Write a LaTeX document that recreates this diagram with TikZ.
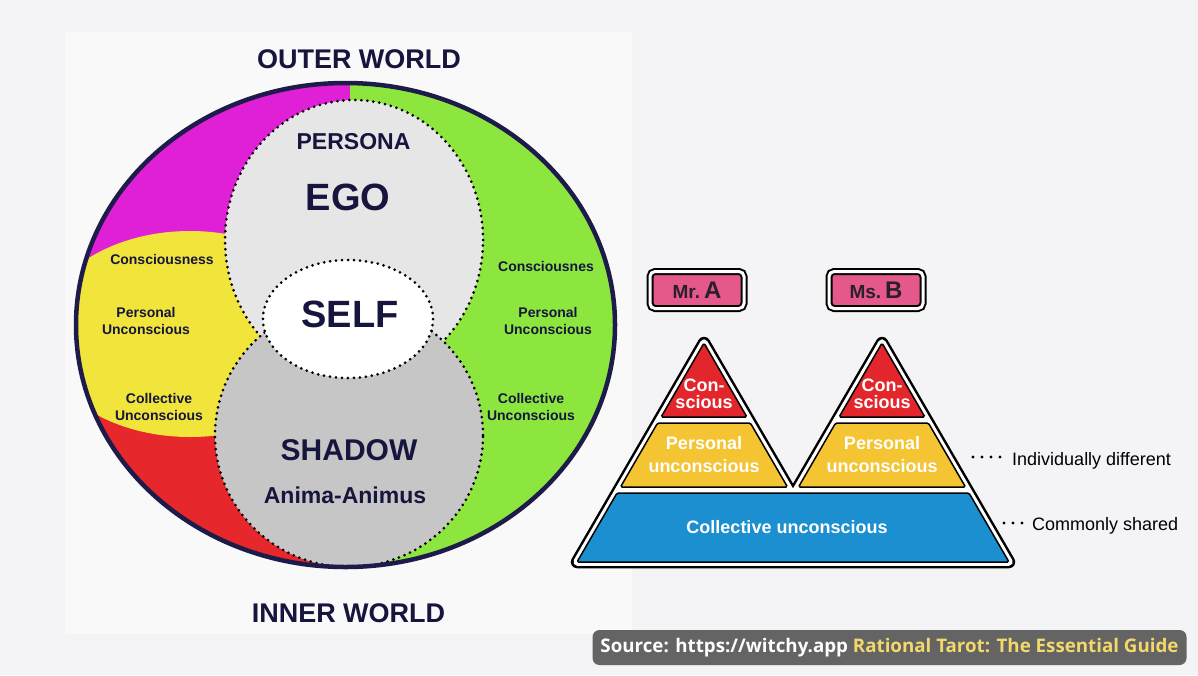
\documentclass[tikz,border=0pt]{standalone}
\usepackage{fontspec}
\setmainfont{Liberation Sans}
\newfontfamily\srcfont{Open Sans}
\definecolor{bgc}{HTML}{F4F4F7}
\definecolor{panelc}{HTML}{F9F9FA}
\definecolor{navy}{HTML}{15153D}
\definecolor{rimc}{HTML}{1C1B4A}
\definecolor{magc}{HTML}{E020D6}
\definecolor{grnc}{HTML}{8CE63E}
\definecolor{ylwc}{HTML}{F1E43A}
\definecolor{redc}{HTML}{E6282C}
\definecolor{egoc}{HTML}{E6E6E6}
\definecolor{shdc}{HTML}{C6C6C6}
\definecolor{pred}{HTML}{E3262B}
\definecolor{pylw}{HTML}{F4C433}
\definecolor{pblu}{HTML}{1B8FD0}
\definecolor{pink}{HTML}{E5588C}
\definecolor{boxtxt}{HTML}{2A1F2A}
\definecolor{srcbg}{HTML}{646464}
\definecolor{srcylw}{HTML}{F3D86A}
\begin{document}
\begin{tikzpicture}[x=1pt,y=-1pt,
  lbl/.style={inner sep=0pt, text=navy, font=\bfseries},
  small/.style={lbl, align=center, font=\bfseries\fontsize{14}{17}\selectfont},
  dotrim/.style={draw=black, line width=3pt, dash pattern=on 0pt off 6pt, line cap=round},
  band/.style={draw=black, line width=1.5pt, rounded corners=1.5pt},
  ptext/.style={inner sep=0pt, text=white, align=center},
  namebox/.style={draw=black, line width=2pt, double=white, double distance=3pt,
    fill=pink, rounded corners=5pt, minimum width=94pt, minimum height=37pt,
    inner sep=0pt, text=boxtxt, font=\bfseries},
  leader/.style={draw=black, line width=3.2pt, dash pattern=on 0pt off 9pt, line cap=round},
  side/.style={inner sep=0pt, text=black, font=\fontsize{18}{18}\selectfont}
]
\useasboundingbox (0,0) rectangle (1198,675);
\fill[bgc] (0,0) rectangle (1198,675);
\fill[panelc] (65,32) rectangle (632,634);

% ---------- psyche circle ----------
\coordinate (C) at (345.5,325);
\begin{scope}
  \clip (C) ellipse [x radius=269.5pt, y radius=242pt];
  \fill[magc] (60,60) rectangle (350,330);
  \fill[redc] (60,330) rectangle (350,590);
  \fill[grnc] (350,60) rectangle (630,590);
  \fill[ylwc] (190,334) ellipse [x radius=150pt, y radius=103pt];
\end{scope}
\path[fill=egoc] (354,240) ellipse [x radius=129pt, y radius=140pt];
\path[dotrim] (354,240) ellipse [x radius=129pt, y radius=140pt];
\path[fill=shdc] (349,435) ellipse [x radius=134pt, y radius=132pt];
\path[dotrim] (349,435) ellipse [x radius=134pt, y radius=132pt];
\path[fill=white] (348,319) ellipse [x radius=85pt, y radius=59pt];
\path[dotrim] (348,319) ellipse [x radius=85pt, y radius=59pt];
\draw[rimc, line width=4.5pt] (C) ellipse [x radius=269.5pt, y radius=242pt];

\node[lbl, anchor=base, font=\bfseries\fontsize{27}{27}\selectfont] (outer) at (359,68) {OUTER WORLD};
\node[lbl, anchor=base, font=\bfseries\fontsize{27}{27}\selectfont] (inner) at (348.5,622) {INNER WORLD};
\node[lbl, anchor=base, font=\bfseries\fontsize{23}{23}\selectfont] (persona) at (353.5,149) {PERSONA};
\node[lbl, anchor=base, font=\bfseries\fontsize{38}{38}\selectfont] (ego) at (348,210) {EGO};
\node[lbl, anchor=base, font=\bfseries\fontsize{38}{38}\selectfont] (self) at (350,327) {SELF};
\node[lbl, anchor=base, font=\bfseries\fontsize{30}{30}\selectfont] (shadow) at (349,460) {SHADOW};
\node[lbl, anchor=base, font=\bfseries\fontsize{23}{23}\selectfont] (anima) at (345,503) {Anima-Animus};

\node[small, anchor=base] (lcons) at (162,264) {Consciousness};
\node[small] (lpers) at (146,320.5) {Personal\\Unconscious};
\node[small] (lcoll) at (159,406.5) {Collective\\Unconscious};
\node[small, anchor=base] (rcons) at (546,271) {Consciousnes};
\node[small] (rpers) at (548,320.5) {Personal\\Unconscious};
\node[small] (rcoll) at (531,406.5) {Collective\\Unconscious};

% ---------- pyramids ----------
\def\sil{(704,343) -- (577,562) -- (1009,562) -- (882,343) -- (793,496) -- cycle}
\draw[black, line width=12.5pt, line join=round] \sil;
\draw[white, line width=7.5pt, line join=round] \sil;
\fill[white] \sil;

\path[band, fill=pred] (704,343) -- (661.1,417) -- (746.9,417) -- cycle;
\path[band, fill=pylw] (657.6,423) -- (750.4,423) -- (787.5,487) -- (620.5,487) -- cycle;
\path[band, fill=pred] (882,343) -- (839.1,417) -- (924.9,417) -- cycle;
\path[band, fill=pylw] (835.6,423) -- (928.4,423) -- (965.5,487) -- (798.5,487) -- cycle;
\path[band, fill=pblu] (617,493) -- (969,493) -- (1009,562) -- (577,562) -- cycle;

\node[ptext, font=\bfseries\fontsize{18}{17}\selectfont] (aCon) at (704,394) {Con-\\scious};
\node[ptext, font=\bfseries\fontsize{18}{23}\selectfont] (aPer) at (704,455) {Personal\\unconscious};
\node[ptext, font=\bfseries\fontsize{18}{17}\selectfont] (bCon) at (882,394) {Con-\\scious};
\node[ptext, font=\bfseries\fontsize{18}{23}\selectfont] (bPer) at (882,455) {Personal\\unconscious};
\node[ptext, anchor=base, font=\bfseries\fontsize{18}{18}\selectfont] (coll) at (787,533) {Collective unconscious};

\node[namebox] (mrA) at (697,290) {\fontsize{19}{19}\selectfont Mr.\hspace{4pt}\fontsize{24}{24}\selectfont A};
\node[namebox] (msB) at (876,290) {\fontsize{19}{19}\selectfont Ms.\hspace{4pt}\fontsize{24}{24}\selectfont B};

\node[side, anchor=base west] (indiv) at (1012,465) {Individually different};
\node[side, anchor=base west] (common) at (1032,530) {Commonly shared};
\coordinate (d1) at (973,457);
\coordinate (d2) at (1004,523);
\draw[leader] (d1) -- ([xshift=-8pt]indiv.west |- d1);
\draw[leader] (d2) -- ([xshift=-10pt]common.west |- d2);

% ---------- source ----------
\node[fill=srcbg, rounded corners=7pt, minimum width=594pt, minimum height=35pt, inner sep=0pt] (src) at (889.5,647.5)
  {\resizebox{578pt}{!}{\srcfont\bfseries\fontsize{20}{20}\selectfont\textcolor{white}{Source: https://witchy.app} \textcolor{srcylw}{Rational Tarot: The Essential Guide}}};
\end{tikzpicture}
\end{document}
